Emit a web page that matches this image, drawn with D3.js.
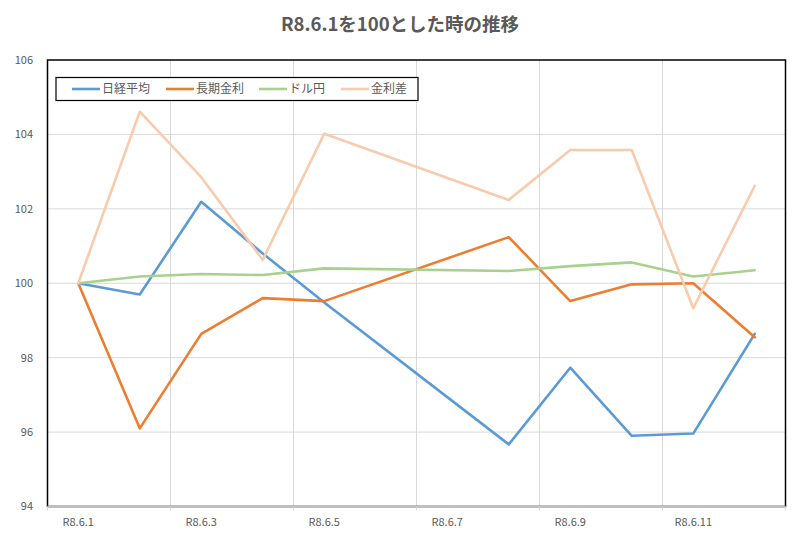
<!DOCTYPE html>
<html lang="ja">
<head>
<meta charset="utf-8">
<title>R8.6.1を100とした時の推移</title>
<script src="https://cdn.jsdelivr.net/npm/d3@7"></script>
<style>
  body { margin: 0; background: #fff; }
  svg { display: block; font-family: "Noto Sans CJK JP", "Noto Sans", sans-serif; }
</style>
</head>
<body>
<svg id="chart" width="800" height="543"></svg>
<script>
/*
 * R8.6.1を100とした時の推移
 */

// Tage im Juni (R8), alle Tage der Achse
var days = [1, 2, 3, 4, 5, 6, 7, 8, 9, 10, 11, 12];
// Tage mit Werten (6., 7. = Wochenende)
var dataDays = [1, 2, 3, 4, 5, 8, 9, 10, 11, 12];
var tickDays = [1, 3, 5, 7, 9, 11];
var yTicks = [94, 96, 98, 100, 102, 104, 106];

var seriesNames = ["日経平均", "長期金利", "ドル円", "金利差"];
var nikkei  = [100, 99.70, 102.19, 100.80, 99.48, 95.67, 97.73, 95.90, 95.96, 98.64];
var rate    = [100, 96.10, 98.64, 99.60, 99.52, 101.24, 99.52, 99.97, 100.00, 98.55];
var usdjpy  = [100, 100.18, 100.25, 100.22, 100.40, 100.33, 100.46, 100.56, 100.18, 100.35];
var spread  = [100, 104.61, 102.85, 100.63, 104.02, 102.24, 103.58, 103.58, 99.33, 102.62];

var colors = ["#5B9BD5", "#ED7D31", "#A9D18E", "#F8CBAD"];

var series = [nikkei, rate, usdjpy, spread].map(function(vals, i) {
  return {
    name: seriesNames[i],
    color: colors[i],
    values: vals.map(function(v, j) { return { day: dataDays[j], v: v }; })
  };
});

var svg = d3.select("#chart");

var plot = { left: 47.5, right: 785.5, top: 60, bottom: 506.5 };

// Datumsachse: jeder Tag ist ein Band, Punkt in der Mitte
var x = d3.scaleBand()
  .domain(days)
  .range([plot.left, plot.right])
  .padding(0);

var y = d3.scaleLinear()
  .domain([94, 106])
  .range([plot.bottom, plot.top]);

var cx = function(d) { return x(d) + x.bandwidth() / 2; };

// Titel
svg.append("text")
  .attr("x", 400)
  .attr("y", 31)
  .attr("text-anchor", "middle")
  .attr("font-size", "18.5px")
  .attr("font-weight", "bold")
  .attr("fill", "#595959")
  .text("R8.6.1を100とした時の推移");

// Gitternetz horizontal
svg.append("g")
  .selectAll("line")
  .data(yTicks.slice(1, -1))
  .join("line")
  .attr("x1", plot.left)
  .attr("x2", plot.right)
  .attr("y1", function(d) { return y(d); })
  .attr("y2", function(d) { return y(d); })
  .attr("stroke", "#d9d9d9")
  .attr("stroke-width", 1);

// Gitternetz vertikal (alle 2 Tage, an den Bandgrenzen)
svg.append("g")
  .selectAll("line")
  .data(tickDays.slice(1))
  .join("line")
  .attr("x1", function(d) { return x(d); })
  .attr("x2", function(d) { return x(d); })
  .attr("y1", plot.top)
  .attr("y2", plot.bottom)
  .attr("stroke", "#d9d9d9")
  .attr("stroke-width", 1);

// Rahmen der Zeichenfläche
svg.append("rect")
  .attr("x", plot.left)
  .attr("y", plot.top)
  .attr("width", plot.right - plot.left)
  .attr("height", plot.bottom - plot.top)
  .attr("fill", "none")
  .attr("stroke", "#000")
  .attr("stroke-width", 1.5);

// x-Achse
svg.append("line")
  .attr("x1", plot.left)
  .attr("x2", plot.right)
  .attr("y1", plot.bottom)
  .attr("y2", plot.bottom)
  .attr("stroke", "#bfbfbf")
  .attr("stroke-width", 1.5);

svg.append("g")
  .selectAll("line")
  .data(tickDays.concat([13]))
  .join("line")
  .attr("x1", function(d) { return d > 12 ? plot.right : x(d); })
  .attr("x2", function(d) { return d > 12 ? plot.right : x(d); })
  .attr("y1", plot.bottom)
  .attr("y2", plot.bottom + 4)
  .attr("stroke", "#d9d9d9");

svg.append("g")
  .selectAll("text")
  .data(tickDays)
  .join("text")
  .attr("x", function(d) { return cx(d); })
  .attr("y", 526)
  .attr("text-anchor", "middle")
  .attr("font-size", "11px")
  .attr("fill", "#595959")
  .text(function(d) { return "R8.6." + d; });

// y-Achse Beschriftung
svg.append("g")
  .selectAll("text")
  .data(yTicks)
  .join("text")
  .attr("x", 33)
  .attr("y", function(d) { return y(d); })
  .attr("dy", "0.35em")
  .attr("text-anchor", "end")
  .attr("font-size", "11px")
  .attr("fill", "#595959")
  .text(function(d) { return d; });

// Linien
var line = d3.line()
  .x(function(d) { return cx(d.day); })
  .y(function(d) { return y(d.v); });

svg.append("g")
  .selectAll("path")
  .data(series)
  .join("path")
  .attr("d", function(s) { return line(s.values); })
  .attr("fill", "none")
  .attr("stroke", function(s) { return s.color; })
  .attr("stroke-width", 2.6)
  .attr("stroke-linejoin", "round")
  .attr("stroke-linecap", "round");

// Legende
var legend = svg.append("g");

legend.append("rect")
  .attr("x", 56)
  .attr("y", 77.5)
  .attr("width", 362)
  .attr("height", 23)
  .attr("fill", "#fff")
  .attr("stroke", "#000")
  .attr("stroke-width", 1.2);

var legendX = [72, 166, 259, 341];

var item = legend.selectAll("g")
  .data(series)
  .join("g")
  .attr("transform", function(s, i) { return "translate(" + legendX[i] + ",89)"; });

item.append("line")
  .attr("x1", 0)
  .attr("x2", 28)
  .attr("stroke", function(s) { return s.color; })
  .attr("stroke-width", 2.6);

item.append("text")
  .attr("x", 30)
  .attr("dy", "0.35em")
  .attr("font-size", "12px")
  .attr("fill", "#595959")
  .text(function(s) { return s.name; });
</script>
</body>
</html>
